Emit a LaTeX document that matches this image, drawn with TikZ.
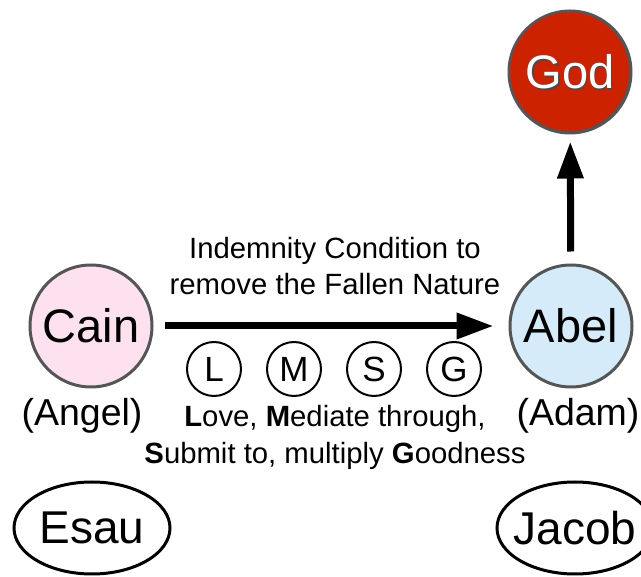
\documentclass[tikz,border=0pt]{standalone}
\usepackage{fontspec}
\setmainfont{Liberation Sans}
\usetikzlibrary{arrows.meta,shapes.geometric}
\definecolor{godred}{HTML}{CC2200}
\definecolor{ringgray}{HTML}{555555}
\definecolor{cainpink}{HTML}{FDE1EE}
\definecolor{abelblue}{HTML}{D6EBFA}
\tikzset{
  bigcirc/.style={circle, draw=ringgray, line width=3pt, minimum size=122pt, inner sep=0pt, font=\fontsize{47}{50}\selectfont},
  lettercirc/.style={circle, draw=black, line width=2pt, minimum size=54pt, inner sep=0pt, font=\fontsize{35}{38}\selectfont},
  midtext/.style={align=center, inner sep=0pt, font=\fontsize{29.3}{36.5}\selectfont},
  roletext/.style={inner sep=0pt, font=\fontsize{37.5}{40}\selectfont},
  sonellipse/.style={ellipse, draw=black, line width=3pt, fill=white, minimum width=156pt, minimum height=92pt, inner sep=-15pt, font=\fontsize{46}{50}\selectfont},
  bigarrow/.style={line width=7pt, -{Triangle[length=37pt,width=25pt]}}
}
\begin{document}
\begin{tikzpicture}[x=1pt,y=-1pt]
\useasboundingbox (0,0) rectangle (641,577);
\node[bigcirc, fill=godred] (god) at (570,72) {};
\node[font=\fontsize{47}{50}\selectfont, text=black!70, inner sep=0pt] (godshadow) at (571.5,73.5) {God};
\node[font=\fontsize{47}{50}\selectfont, text=white, inner sep=0pt] (godtext) at (570,72) {God};
\node[bigcirc, fill=cainpink] (cain) at (91,326) {Cain};
\node[bigcirc, fill=abelblue] (abel) at (571,326) {Abel};
\draw[bigarrow, shorten <=11pt, shorten >=15pt] (cain) -- (abel);
\draw[bigarrow, shorten <=12pt, shorten >=7pt] (abel) -- (god);
\node[midtext] (cond) at (335,266) {Indemnity Condition to\\remove the Fallen Nature};
\node[lettercirc] (l) at (214,369) {L};
\node[lettercirc] (m) at (294,369) {M};
\node[lettercirc] (s) at (374,369) {S};
\node[lettercirc] (g) at (454,369) {G};
\node[roletext] (angel) at (82,416) {(Angel)};
\node[roletext] (adam) at (578,416) {(Adam)};
\node[midtext] (lmsg) at (335,437.5) {\textbf{L}ove, \textbf{M}ediate through,\\\textbf{S}ubmit to, multiply \textbf{G}oodness};
\node[sonellipse] (esau) at (92,528) {Esau};
\node[sonellipse] (jacob) at (575,528) {Jacob};
\end{tikzpicture}
\end{document}
